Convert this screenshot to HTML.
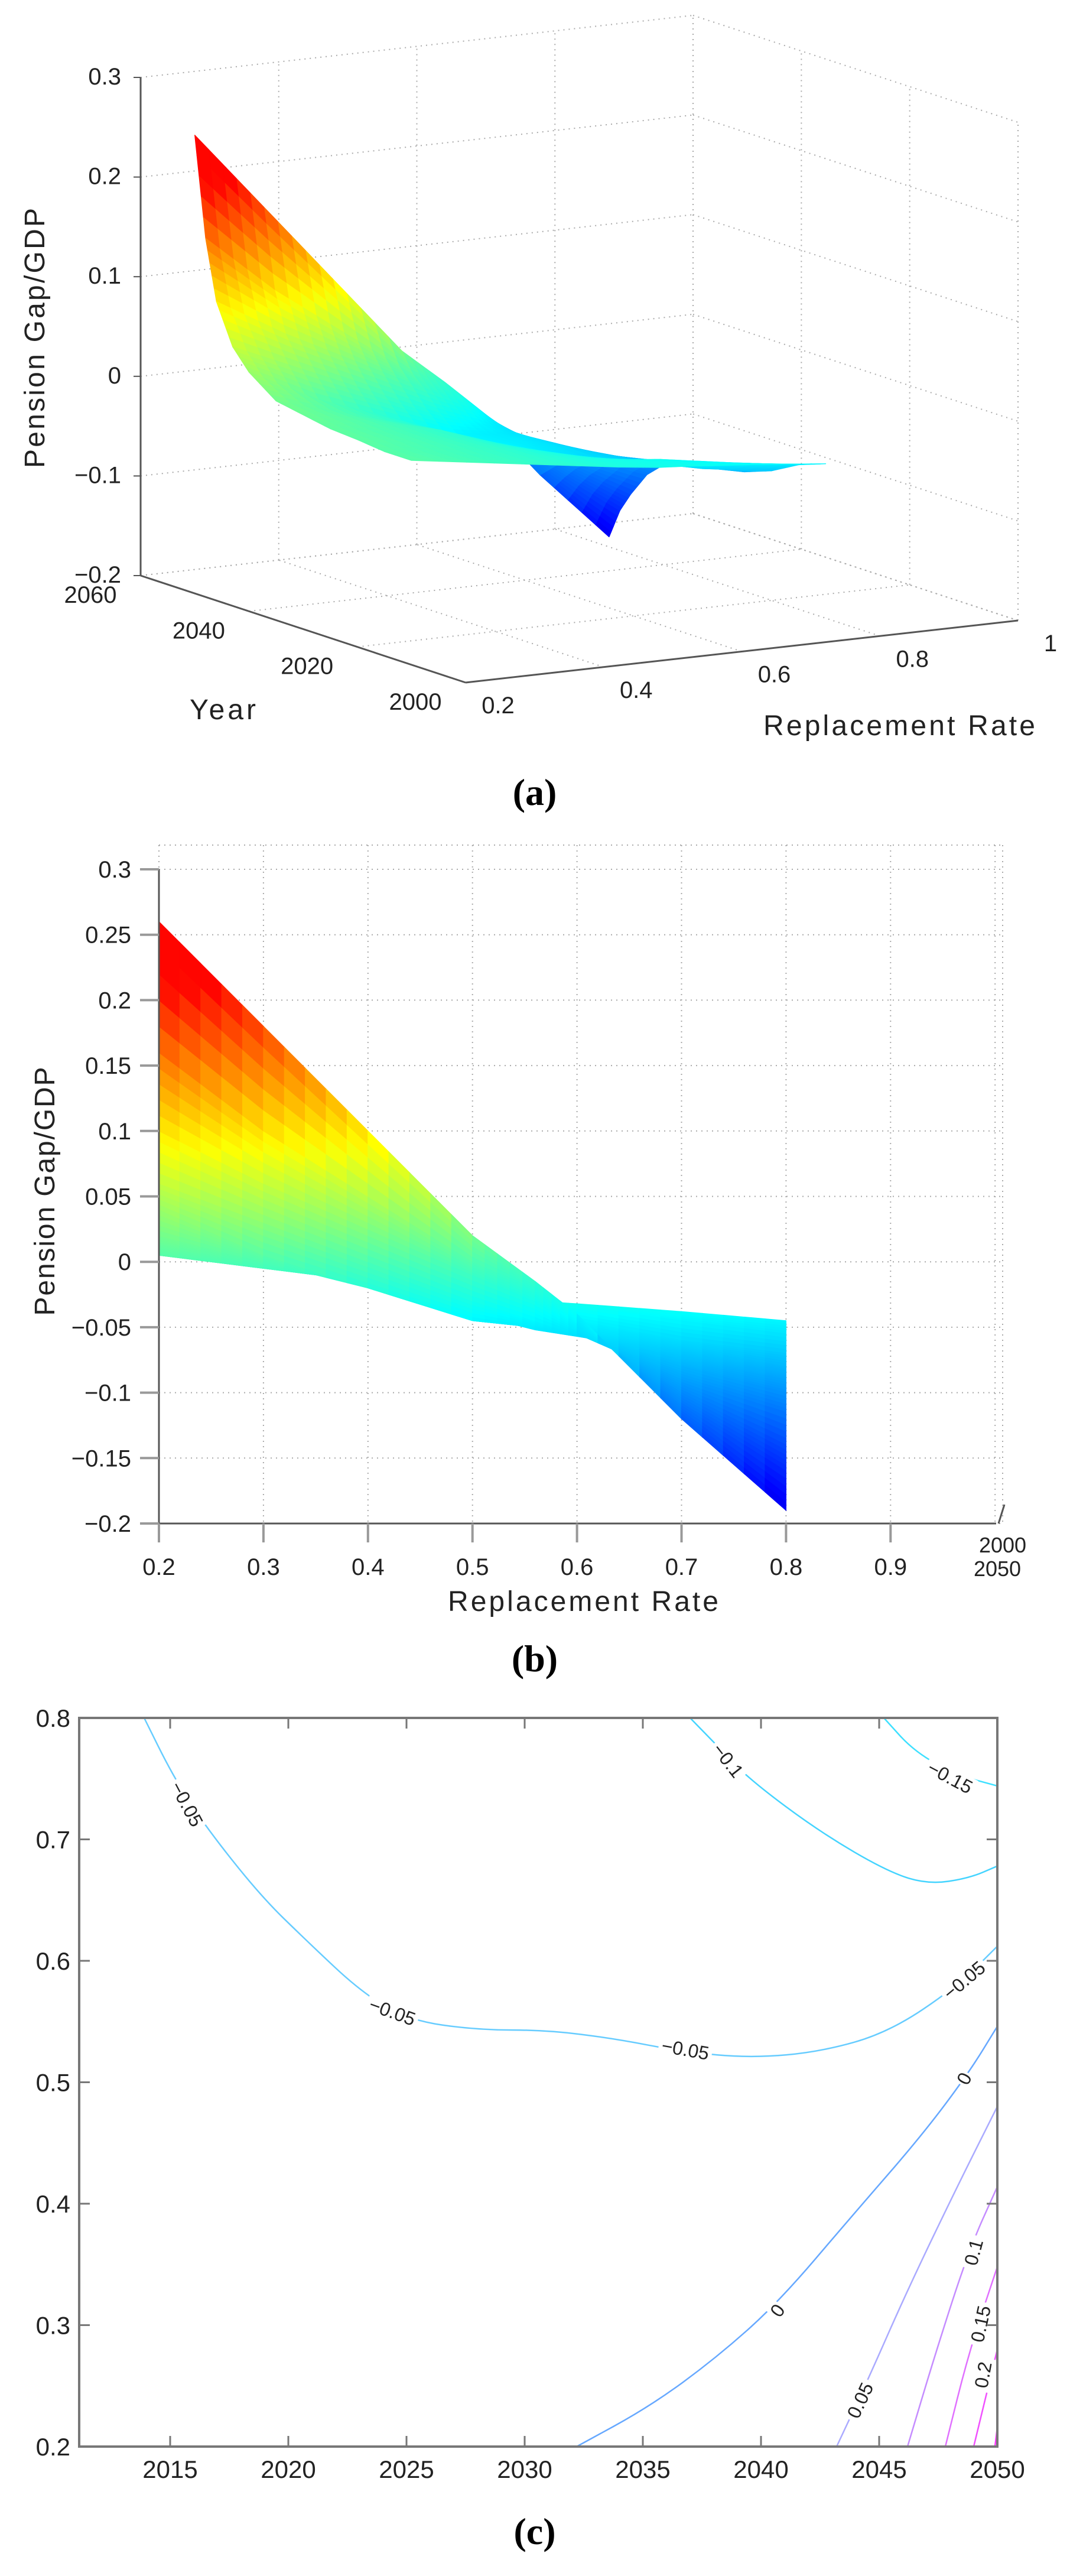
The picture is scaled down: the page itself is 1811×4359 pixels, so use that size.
<!DOCTYPE html>
<html><head><meta charset="utf-8">
<style>
html,body{margin:0;padding:0;background:#fff;}
svg{display:block;}
text{font-family:"Liberation Sans",sans-serif;fill:#222;}
.pl{font-family:"Liberation Serif",serif;font-size:64px;font-weight:bold;fill:#000;}
</style></head>
<body>
<svg id="fig" width="1811" height="4359" viewBox="0 0 1811 4359" xmlns="http://www.w3.org/2000/svg">
<g id="pa"></g>
<g id="pb"></g>
<g id="pc"></g>
<text class="pl" x="905" y="1362" text-anchor="middle">(a)</text>
<text class="pl" x="905" y="2828" text-anchor="middle">(b)</text>
<text class="pl" x="905" y="4305" text-anchor="middle">(c)</text>
</svg>
<script>
// ---- data ----
const years = [2010, 2015, 2020, 2025, 2030, 2035, 2040, 2043, 2046, 2048, 2050];
const rates = [0.2, 0.3, 0.4, 0.5, 0.56, 0.6, 0.7, 0.8];
const gap2010 = [0.005, -0.005, -0.015, -0.025, -0.03, -0.032, -0.038, -0.045];
const gap2015 = [0.005, -0.005, -0.015, -0.026, -0.031, -0.034, -0.045, -0.055];
const gap2020 = [0.008, -0.003, -0.015, -0.03, -0.04, -0.045, -0.06, -0.07];
const gap2025 = [0.01, -0.002, -0.016, -0.035, -0.047, -0.052, -0.065, -0.08];
const gap2030 = [0.015, 0.0, -0.016, -0.04, -0.052, -0.057, -0.07, -0.085];
const gap2035 = [0.02, 0.0, -0.02, -0.045, -0.05, -0.055, -0.075, -0.09];
const gap2040 = [0.04, 0.005, -0.02, -0.045, -0.05, -0.055, -0.08, -0.1];
const gap2043 = [0.06, 0.03, 0.0, -0.03, -0.045, -0.055, -0.09, -0.115];
const gap2046 = [0.1, 0.06, 0.025, -0.01, -0.03, -0.05, -0.1, -0.14];
const gap2048 = [0.16, 0.1, 0.05, 0.0, -0.02, -0.045, -0.11, -0.16];
const gap2050 = [0.26, 0.18, 0.1, 0.02, -0.015, -0.04, -0.12, -0.19];
const Z = [gap2010, gap2015, gap2020, gap2025, gap2030, gap2035, gap2040, gap2043, gap2046, gap2048, gap2050];

const zTicksA = [0.3, 0.2, 0.1, 0, -0.1, -0.2];
const zTickLabelsA = ["0.3", "0.2", "0.1", "0", "\u22120.1", "\u22120.2"];
const yearTicksA = [2000, 2020, 2040, 2060];
const rateTicksA = [0.2, 0.4, 0.6, 0.8, 1];
const rateTickLabelsA = ["0.2", "0.4", "0.6", "0.8", "1"];

const zTicksB = [0.3, 0.25, 0.2, 0.15, 0.1, 0.05, 0, -0.05, -0.1, -0.15, -0.2];
const zTickLabelsB = ["0.3", "0.25", "0.2", "0.15", "0.1", "0.05", "0", "\u22120.05", "\u22120.1", "\u22120.15", "\u22120.2"];
const rateTicksB = [0.2, 0.3, 0.4, 0.5, 0.6, 0.7, 0.8, 0.9];

const yearTicksC = [2015, 2020, 2025, 2030, 2035, 2040, 2045, 2050];
const rateTicksC = [0.2, 0.3, 0.4, 0.5, 0.6, 0.7, 0.8];
const levels = [-0.15, -0.1, -0.05, -0.05, 0, 0.05, 0.1, 0.15, 0.2, 0.25];
const levelColors = ["#3ee0ff", "#44d4ff", "#66ccff", "#66ccff", "#66a8ff", "#aaaaff", "#c58cff", "#e070ff", "#f050ff", "#ff33ff"];
const contYears = [
 [2045.2, 2046.5, 2048.3, 2050],
 [2037.0, 2038.4, 2039.6, 2042.5, 2045.4, 2047.1, 2048.8, 2050],
 [2013.9, 2015.1, 2016.4, 2018.8, 2020.8, 2023.1, 2025.1, 2028.0, 2030.9, 2033.8, 2036.7, 2039.6, 2042.5, 2045.4, 2048.3, 2050],
 [],
 [2032.2, 2035.3, 2038.1, 2040.7, 2043.9, 2046.8, 2048.8, 2050],
 [2043.2, 2044.5, 2046.2, 2048.3, 2050],
 [2046.2, 2047.4, 2048.8, 2050],
 [2047.8, 2048.8, 2050],
 [2049.0, 2050],
 [2049.9, 2050]
];
const contRates = [
 [0.8, 0.772, 0.753, 0.744],
 [0.8, 0.772, 0.748, 0.706, 0.673, 0.663, 0.668, 0.678],
 [0.8, 0.753, 0.713, 0.654, 0.616, 0.574, 0.551, 0.543, 0.543, 0.536, 0.525, 0.52, 0.525, 0.541, 0.579, 0.612],
 [],
 [0.2, 0.233, 0.273, 0.318, 0.391, 0.456, 0.508, 0.546],
 [0.2, 0.254, 0.329, 0.414, 0.48],
 [0.2, 0.278, 0.362, 0.414],
 [0.2, 0.278, 0.348],
 [0.2, 0.28],
 [0.2, 0.216]
];
const labelText = ["\u22120.05", "\u22120.05", "\u22120.05", "\u22120.05", "\u22120.1", "\u22120.15", "0", "0", "0.05", "0.1", "0.15", "0.2"];
const labelYear = [2015.7, 2024.4, 2036.8, 2048.6, 2038.6, 2048.0, 2040.7, 2048.6, 2044.2, 2049.0, 2049.3, 2049.4];
const labelRate = [0.729, 0.558, 0.527, 0.584, 0.765, 0.751, 0.312, 0.503, 0.238, 0.36, 0.301, 0.259];
const labelAngle = [62, 20, 10, -40, 52, 28, -55, -62, -65, -75, -78, -80];

// ---- helpers ----
const NS = "http://www.w3.org/2000/svg";
function mk(parent, tag, attrs, txt) {
  const e = document.createElementNS(NS, tag);
  for (const k in attrs) e.setAttribute(k, attrs[k]);
  if (txt !== undefined) e.textContent = txt;
  parent.appendChild(e);
  return e;
}
function jet(t) {
  t = Math.max(0, Math.min(1, t));
  const c = v => Math.round(255 * Math.max(0, Math.min(1, v)));
  return "rgb(" + c(1.5 - Math.abs(4 * t - 3)) + "," + c(1.5 - Math.abs(4 * t - 2)) + "," + c(1.5 - Math.abs(4 * t - 1)) + ")";
}
let zmin = Infinity, zmax = -Infinity;
Z.forEach(r => r.forEach(v => { zmin = Math.min(zmin, v); zmax = Math.max(zmax, v); }));
const col = v => jet(v < 0 ? 0.45 + v / (-zmin) * 0.35 : Math.min(0.87, 0.45 + v / 0.2 * 0.4));
const SUB = 5;
function cellPt(i, j, u, v) {
  const r = rates[j] + (rates[j + 1] - rates[j]) * u;
  const y = years[i] + (years[i + 1] - years[i]) * v;
  const z = (1 - u) * (1 - v) * Z[i][j] + u * (1 - v) * Z[i][j + 1] + u * v * Z[i + 1][j + 1] + (1 - u) * v * Z[i + 1][j];
  return [r, y, z];
}

// ---- Panel A ----
const A = document.getElementById("pa");
function P(r, y, z) {
  const fr = (r - 0.2) / 0.8, fy = (y - 2000) / 60;
  return [788 + fr * 935 + fy * (-550), 1155 + fr * (-105) + fy * (-181) - (z + 0.2) * 1686];
}
function line(g, p, q, attrs) {
  return mk(g, "line", Object.assign({x1: p[0], y1: p[1], x2: q[0], y2: q[1]}, attrs));
}
const dot = {stroke: "#aaa", "stroke-width": 2, "stroke-dasharray": "2 7"};
rateTicksA.forEach(r => { const l = line(A, P(r, 2000, -0.2), P(r, 2060, -0.2), dot);   });
yearTicksA.forEach(y => { const l = line(A, P(0.2, y, -0.2), P(1, y, -0.2), dot);   });
rateTicksA.forEach(r => { const l = line(A, P(r, 2060, -0.2), P(r, 2060, 0.3), dot);   });
yearTicksA.forEach(y => { const l = line(A, P(1, y, -0.2), P(1, y, 0.3), dot);   });
zTicksA.forEach(z => {
  const l1 = line(A, P(0.2, 2060, z), P(1, 2060, z), dot);
  
  
  const l2 = line(A, P(1, 2060, z), P(1, 2000, z), dot);
  
  
});
const axs = {stroke: "#555", "stroke-width": 3};
let ax = line(A, P(0.2, 2060, -0.2), P(0.2, 2060, 0.3), axs);
 
ax = line(A, P(0.2, 2000, -0.2), P(0.2, 2060, -0.2), axs);
 
ax = line(A, P(0.2, 2000, -0.2), P(1, 2000, -0.2), axs);
 
for (let i = years.length - 2; i >= 0; i--) {
  for (let j = rates.length - 2; j >= 0; j--) {
    for (let a = SUB - 1; a >= 0; a--) {
      for (let b = SUB - 1; b >= 0; b--) {
        const u0 = b / SUB, u1 = (b + 1) / SUB, v0 = a / SUB, v1 = (a + 1) / SUB;
        const q = [cellPt(i, j, u0, v0), cellPt(i, j, u1, v0), cellPt(i, j, u1, v1), cellPt(i, j, u0, v1)];
        const c = col(cellPt(i, j, (u0 + u1) / 2, (v0 + v1) / 2)[2]);
        const pg = mk(A, "polygon", {points: q.map(p => P(p[0], p[1], p[2]).join(",")).join(" "), fill: c, stroke: c, "stroke-width": 1.2, "stroke-linejoin": "round"});
        
        
      }
    }
  }
}
zTicksA.forEach((z, k) => {
  const p = P(0.2, 2060, z);
  const tk = line(A, [p[0] - 12, p[1]], p, {stroke: "#555", "stroke-width": 2});
   
  const t = mk(A, "text", {x: p[0] - 33, y: p[1] + 12, "text-anchor": "end", "font-size": 40}, zTickLabelsA[k]);
   
});
yearTicksA.forEach(y => {
  const p = P(0.2, y, -0.2);
  const t = mk(A, "text", {x: p[0] - 85, y: p[1] + 46, "text-anchor": "middle", "font-size": 40}, String(y));
   
});
rateTicksA.forEach((r, k) => {
  const p = P(r, 2000, -0.2);
  const t = mk(A, "text", {x: p[0] + 55, y: p[1] + 52, "text-anchor": "middle", "font-size": 40}, rateTickLabelsA[k]);
   
});
let tt = mk(A, "text", {x: 377, y: 1217, "text-anchor": "middle", "font-size": 48, textLength: 112}, "Year");
 
tt = mk(A, "text", {x: 1522, y: 1244, "text-anchor": "middle", "font-size": 48, textLength: 460}, "Replacement Rate");
 
tt = mk(A, "text", {x: 0, y: 0, "text-anchor": "middle", "font-size": 48, textLength: 440, transform: "translate(75,572) rotate(-90)"}, "Pension Gap/GDP");
 

// ---- Panel B ----
const B = document.getElementById("pb");
const bx = r => 269 + (r - 0.2) / 0.1 * 176.9;
const by = z => 2578 - (z + 0.2) / 0.05 * 110.7;
zTicksB.forEach(z => { const l = line(B, [bx(0.2), by(z)], [1697, by(z)], dot);   });
rateTicksB.concat([1.0]).forEach(r => { const l = line(B, [bx(r), 1430], [bx(r), by(-0.2)], dot);   });
let gl = line(B, [bx(0.2), 1430], [1697, 1430], dot);  
gl = line(B, [1697, 1430], [1697, by(-0.2)], dot);  
for (let i = 0; i < years.length - 1; i++) {
  for (let j = 0; j < rates.length - 1; j++) {
    for (let a = 0; a < SUB; a++) {
      for (let b = 0; b < SUB; b++) {
        const u0 = b / SUB, u1 = (b + 1) / SUB, v0 = a / SUB, v1 = (a + 1) / SUB;
        const q = [cellPt(i, j, u0, v0), cellPt(i, j, u1, v0), cellPt(i, j, u1, v1), cellPt(i, j, u0, v1)];
        const c = col(cellPt(i, j, (u0 + u1) / 2, (v0 + v1) / 2)[2]);
        const pg = mk(B, "polygon", {points: q.map(p => bx(p[0]) + "," + by(p[2])).join(" "), fill: c, stroke: c, "stroke-width": 1.2});
        
        
      }
    }
  }
}
ax = line(B, [bx(0.2), 1471], [bx(0.2), by(-0.2)], axs);  
ax = line(B, [bx(0.2), by(-0.2)], [1686, by(-0.2)], axs);  
zTicksB.forEach((z, k) => {
  const tk = line(B, [bx(0.2) - 32, by(z)], [bx(0.2), by(z)], {stroke: "#999", "stroke-width": 4});
   
  const t = mk(B, "text", {x: 222, y: by(z) + 14, "text-anchor": "end", "font-size": 40}, zTickLabelsB[k]);
   
});
rateTicksB.forEach(r => {
  const tk = line(B, [bx(r), by(-0.2)], [bx(r), by(-0.2) + 32], {stroke: "#999", "stroke-width": 4});
   
  const t = mk(B, "text", {x: bx(r), y: 2665, "text-anchor": "middle", "font-size": 40}, r.toFixed(1));
   
});
let sl = line(B, [1690, 2578], [1700, 2546], {stroke: "#555", "stroke-width": 3});  
tt = mk(B, "text", {x: 1697, y: 2627, "text-anchor": "middle", "font-size": 36}, "2000");  
tt = mk(B, "text", {x: 1688, y: 2667, "text-anchor": "middle", "font-size": 36}, "2050");  
tt = mk(B, "text", {x: 987, y: 2726, "text-anchor": "middle", "font-size": 48, textLength: 458}, "Replacement Rate");
 
tt = mk(B, "text", {x: 0, y: 0, "text-anchor": "middle", "font-size": 48, textLength: 421, transform: "translate(92,2016) rotate(-90)"}, "Pension Gap/GDP");
 

// ---- Panel C ----
const C = document.getElementById("pc");
const cx = y => 134 + (y - 2011.15) / (2050 - 2011.15) * (1688 - 134);
const cy = r => 4140 - (r - 0.2) / 0.6 * (4140 - 2907);
contYears.forEach((ys, k) => {
  if (!ys.length) return;
  let d = "";
  ys.forEach((y, i) => {
    const x = cx(y), yy = cy(contRates[k][i]);
    if (i === 0) d += "M" + x + "," + yy;
    else {
      const px = cx(ys[i - 1]), py = cy(contRates[k][i - 1]);
      d += " Q" + px + "," + py + " " + ((px + x) / 2) + "," + ((py + yy) / 2);
    }
  });
  d += " L" + cx(ys[ys.length - 1]) + "," + cy(contRates[k][ys.length - 1]);
  const p = mk(C, "path", {d: d, fill: "none", stroke: levelColors[k], "stroke-width": 2.5});
  
  
});
labelText.forEach((s, k) => {
  const x = cx(labelYear[k]), y = cy(labelRate[k]);
  const g = mk(C, "g", {transform: "translate(" + x + "," + y + ") rotate(" + labelAngle[k] + ")"});
  
  
  const w = s.length * 17 + 6;
  mk(g, "rect", {x: -w / 2, y: -17, width: w, height: 34, fill: "#fff"});
  mk(g, "text", {x: 0, y: 11, "text-anchor": "middle", "font-size": 32}, s);
});
let box = mk(C, "rect", {x: 134, y: 2907, width: 1688 - 134, height: 4140 - 2907, fill: "none", stroke: "#777", "stroke-width": 4});
 
yearTicksC.forEach(y => {
  const x = cx(y);
  const t1 = line(C, [x, 4140], [x, 4122], {stroke: "#777", "stroke-width": 3});  
  const t2 = line(C, [x, 2907], [x, 2925], {stroke: "#777", "stroke-width": 3});  
  const t = mk(C, "text", {x: x, y: 4193, "text-anchor": "middle", "font-size": 42}, String(y));
   
});
rateTicksC.forEach(r => {
  const y = cy(r);
  const t1 = line(C, [134, y], [152, y], {stroke: "#777", "stroke-width": 3});  
  const t2 = line(C, [1688, y], [1670, y], {stroke: "#777", "stroke-width": 3});  
  const t = mk(C, "text", {x: 119, y: y + 15, "text-anchor": "end", "font-size": 42}, r.toFixed(1));
   
});
</script>
</body></html>
